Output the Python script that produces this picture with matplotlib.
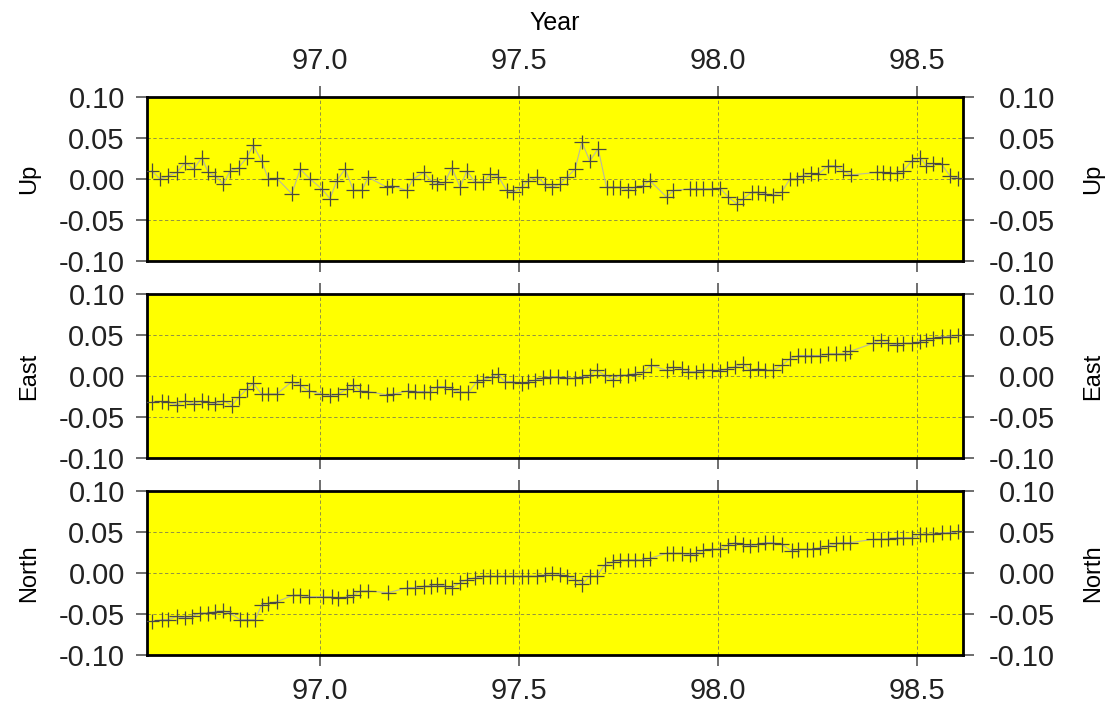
"""Three-component GPS position time series (Up / East / North) on yellow panels."""

import matplotlib

matplotlib.use("Agg")
import matplotlib.pyplot as plt  # noqa: E402
from matplotlib.transforms import ScaledTranslation  # noqa: E402

plt.rcParams["font.family"] = ["Liberation Sans", "DejaVu Sans"]

# epochs (decimal year) and displacements
UP_T = [96.577, 96.598, 96.619, 96.640, 96.661, 96.682, 96.703, 96.719, 96.736,
        96.757, 96.774, 96.795, 96.816, 96.832, 96.853, 96.870, 96.891, 96.929,
        96.950, 96.975, 97.004, 97.025, 97.042, 97.063, 97.084, 97.105, 97.121,
        97.168, 97.180, 97.218, 97.234, 97.260, 97.281, 97.293, 97.314, 97.331,
        97.352, 97.369, 97.389, 97.410, 97.427, 97.448, 97.469, 97.486, 97.507,
        97.523, 97.545, 97.565, 97.582, 97.603, 97.620, 97.641, 97.658, 97.678,
        97.699, 97.720, 97.737, 97.754, 97.775, 97.791, 97.812, 97.829, 97.871,
        97.888, 97.930, 97.946, 97.963, 97.984, 98.005, 98.026, 98.047, 98.064,
        98.085, 98.101, 98.118, 98.139, 98.160, 98.181, 98.198, 98.214, 98.235,
        98.252, 98.277, 98.294, 98.315, 98.334, 98.399, 98.415, 98.432, 98.449,
        98.466, 98.487, 98.508, 98.524, 98.541, 98.562, 98.583, 98.604]
UP_V = [0.010, 0.000, 0.004, 0.008, 0.020, 0.012, 0.026, 0.008, 0.004,
        -0.006, 0.010, 0.014, 0.026, 0.041, 0.022, 0.000, 0.001, -0.018,
        0.012, 0.000, -0.012, -0.024, -0.002, 0.012, -0.014, -0.014, 0.002,
        -0.010, -0.008, -0.014, 0.000, 0.008, -0.003, -0.006, -0.004, 0.014,
        -0.010, 0.010, -0.004, -0.004, 0.006, 0.003, -0.014, -0.016, -0.010,
        -0.002, 0.003, -0.006, -0.010, -0.006, 0.002, 0.012, 0.045, 0.022,
        0.037, -0.010, -0.010, -0.010, -0.014, -0.010, -0.008, -0.002, -0.022,
        -0.014, -0.012, -0.012, -0.012, -0.012, -0.011, -0.022, -0.030, -0.024,
        -0.016, -0.016, -0.018, -0.020, -0.016, 0.000, 0.000, 0.004, 0.007,
        0.006, 0.016, 0.016, 0.010, 0.005, 0.008, 0.008, 0.007, 0.007,
        0.010, 0.022, 0.026, 0.016, 0.019, 0.018, 0.004, 0.001]

EAST_T = [96.577, 96.602, 96.619, 96.640, 96.661, 96.682, 96.703, 96.719, 96.736,
          96.757, 96.778, 96.795, 96.816, 96.832, 96.853, 96.870, 96.891, 96.929,
          96.950, 96.971, 97.004, 97.025, 97.046, 97.067, 97.084, 97.101, 97.121,
          97.168, 97.184, 97.222, 97.239, 97.260, 97.276, 97.293, 97.314, 97.331,
          97.352, 97.373, 97.394, 97.410, 97.431, 97.448, 97.465, 97.486, 97.507,
          97.523, 97.540, 97.561, 97.578, 97.599, 97.620, 97.641, 97.658, 97.678,
          97.695, 97.716, 97.737, 97.754, 97.775, 97.791, 97.812, 97.833, 97.871,
          97.888, 97.909, 97.926, 97.946, 97.963, 97.984, 98.005, 98.022, 98.043,
          98.064, 98.080, 98.101, 98.118, 98.139, 98.160, 98.181, 98.202, 98.219,
          98.235, 98.256, 98.277, 98.298, 98.319, 98.332, 98.390, 98.411, 98.428,
          98.449, 98.466, 98.487, 98.508, 98.524, 98.541, 98.562, 98.583, 98.604]
EAST_V = [-0.032, -0.031, -0.032, -0.035, -0.030, -0.034, -0.030, -0.032, -0.034,
          -0.030, -0.036, -0.026, -0.016, -0.009, -0.022, -0.022, -0.022, -0.007,
          -0.011, -0.018, -0.022, -0.024, -0.022, -0.016, -0.011, -0.018, -0.019,
          -0.023, -0.022, -0.018, -0.019, -0.019, -0.020, -0.013, -0.013, -0.016,
          -0.020, -0.020, -0.007, -0.005, -0.001, 0.002, -0.007, -0.007, -0.009,
          -0.007, -0.005, -0.002, -0.001, -0.001, -0.002, -0.003, -0.001, 0.001,
          0.007, 0.001, -0.005, 0.001, 0.001, 0.003, 0.005, 0.013, 0.007,
          0.011, 0.009, 0.005, 0.005, 0.007, 0.007, 0.006, 0.009, 0.011,
          0.015, 0.007, 0.009, 0.007, 0.007, 0.013, 0.021, 0.025, 0.025,
          0.025, 0.025, 0.027, 0.027, 0.027, 0.030, 0.040, 0.044, 0.040,
          0.038, 0.040, 0.040, 0.042, 0.044, 0.046, 0.048, 0.048, 0.050]

NORTH_T = [96.577, 96.602, 96.619, 96.640, 96.661, 96.678, 96.698, 96.719, 96.736,
           96.757, 96.774, 96.799, 96.816, 96.837, 96.853, 96.870, 96.891, 96.933,
           96.950, 96.971, 97.008, 97.029, 97.046, 97.067, 97.084, 97.101, 97.121,
           97.172, 97.218, 97.239, 97.260, 97.279, 97.293, 97.314, 97.331, 97.352,
           97.369, 97.389, 97.410, 97.427, 97.444, 97.465, 97.486, 97.507, 97.523,
           97.545, 97.565, 97.582, 97.603, 97.620, 97.641, 97.658, 97.678, 97.695,
           97.716, 97.737, 97.754, 97.775, 97.791, 97.812, 97.829, 97.871, 97.888,
           97.909, 97.930, 97.946, 97.963, 97.984, 98.005, 98.026, 98.043, 98.064,
           98.080, 98.101, 98.118, 98.139, 98.160, 98.185, 98.202, 98.223, 98.240,
           98.256, 98.277, 98.298, 98.315, 98.332, 98.390, 98.411, 98.428, 98.449,
           98.466, 98.487, 98.508, 98.524, 98.541, 98.562, 98.583, 98.604]
NORTH_V = [-0.059, -0.057, -0.057, -0.053, -0.055, -0.053, -0.049, -0.049, -0.047,
           -0.046, -0.049, -0.057, -0.057, -0.057, -0.039, -0.037, -0.035, -0.027,
           -0.027, -0.029, -0.029, -0.029, -0.031, -0.029, -0.027, -0.022, -0.022,
           -0.024, -0.018, -0.018, -0.016, -0.016, -0.014, -0.016, -0.018, -0.012,
           -0.008, -0.006, -0.004, -0.004, -0.004, -0.004, -0.004, -0.004, -0.004,
           -0.004, -0.002, 0.000, -0.002, -0.004, -0.008, -0.014, -0.004, -0.004,
           0.010, 0.014, 0.016, 0.016, 0.016, 0.016, 0.018, 0.024, 0.024,
           0.024, 0.022, 0.024, 0.028, 0.029, 0.029, 0.034, 0.037, 0.035,
           0.033, 0.035, 0.037, 0.037, 0.035, 0.027, 0.029, 0.029, 0.029,
           0.031, 0.033, 0.036, 0.037, 0.037, 0.041, 0.041, 0.042, 0.043,
           0.043, 0.043, 0.047, 0.047, 0.047, 0.049, 0.049, 0.051]

T_ERR = 0.019   # half-width of the epoch bar (yr)
V_ERR = 0.009   # half-height of the position bar

PANELS = [("Up", UP_T, UP_V), ("East", EAST_T, EAST_V), ("North", NORTH_T, NORTH_V)]
X_TICKS = [97.0, 97.5, 98.0, 98.5]
Y_TICKS = [-0.10, -0.05, 0.00, 0.05, 0.10]
X_LIM = (96.565, 98.616)

W, H = 1110, 715
LEFT, RIGHT = 147 / W, 963 / W
TOPS = [97, 294, 491]
PANEL_H = 164

fig = plt.figure(figsize=(W / 100, H / 100), dpi=100)
for i, (name, t, v) in enumerate(PANELS):
    ax = fig.add_axes([LEFT, 1 - (TOPS[i] + PANEL_H) / H, RIGHT - LEFT, PANEL_H / H])
    ax.set_facecolor("#ffff00")
    ax.plot(t, v, "-", color="#b8b8a0", lw=0.8, zorder=2)
    ax.errorbar(t, v, xerr=T_ERR, yerr=V_ERR, fmt="none", ecolor="#4a4a40",
                elinewidth=0.9, capsize=0, zorder=3)
    ax.set_xlim(*X_LIM)
    ax.set_ylim(-0.10, 0.10)
    ax.set_xticks(X_TICKS)
    ax.set_yticks(Y_TICKS)
    ax.set_yticklabels([f"{y:.2f}" for y in Y_TICKS])
    ax.grid(True, ls=(0, (4, 3)), color="#606060", lw=0.6, alpha=0.8)
    for sp in ax.spines.values():
        sp.set_linewidth(2.0)
        sp.set_color("black")
    ax.tick_params(axis="both", direction="out", length=8, width=1.2,
                   color="#555555", labelsize=21, labelcolor="#222222")
    ax.tick_params(axis="x", top=True, bottom=True,
                   labeltop=(i == 0), labelbottom=(i == 2), pad=8)
    ax.tick_params(axis="y", left=True, right=True, labelleft=True,
                   labelright=True, pad=8)
    # right-hand tick labels share a common right edge (~x=1060 px)
    for tk in ax.yaxis.get_major_ticks():
        tk.label2.set_horizontalalignment("right")
        tk.label2.set_transform(tk.label2.get_transform()
                                + ScaledTranslation(0.70, 0, fig.dpi_scale_trans))
    ax.text(-0.145, 0.5, name, rotation=90, ha="center", va="center",
            fontsize=17, transform=ax.transAxes)
    ax.text(1.16, 0.5, name, rotation=90, ha="center", va="center",
            fontsize=17, transform=ax.transAxes)
    if i == 0:
        ax.set_title("Year", fontsize=18, pad=48)

fig.savefig("out.png", dpi=100)
